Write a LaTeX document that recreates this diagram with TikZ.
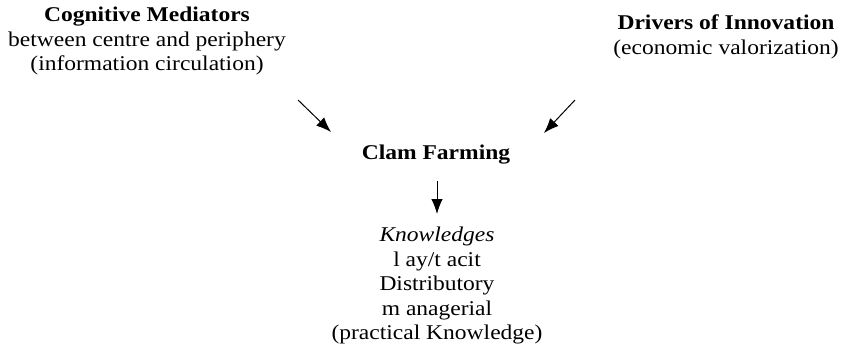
\documentclass[tikz,border=0pt]{standalone}
\usepackage{fontspec}
\setmainfont{Liberation Serif}[FakeStretch=1.12]
\usetikzlibrary{arrows.meta}
\begin{document}
\begin{tikzpicture}[x=1pt,y=-1pt,
  lbl/.style={align=center,inner sep=0pt,font=\fontsize{21}{24.5}\selectfont},
  arr/.style={line width=1pt,-{Latex[length=15pt,width=11.5pt]}}]
\useasboundingbox (0,0) rectangle (845,356);
\node[lbl,anchor=north] (cog) at (147,7) {\textbf{Cognitive Mediators}\\between centre and periphery\\(information circulation)};
\node[lbl,anchor=north] (drv) at (726,15) {\textbf{Drivers of Innovation}\\(economic valorization)};
\node[lbl,anchor=north] (clam) at (436,145) {\textbf{Clam Farming}};
\node[lbl,anchor=north] (know) at (437,227) {\textit{Knowledges}\\l ay/t acit\\Distributory\\m anagerial\\(practical Knowledge)};
\coordinate (l1) at (298,100);
\coordinate (l2) at (331,132);
\coordinate (r1) at (575,100);
\coordinate (r2) at (544,133);
\coordinate (d1) at (437,181);
\coordinate (d2) at (437,214);
\draw[arr] (l1) -- (l2);
\draw[arr] (r1) -- (r2);
\draw[arr] (d1) -- (d2);
\end{tikzpicture}
\end{document}
